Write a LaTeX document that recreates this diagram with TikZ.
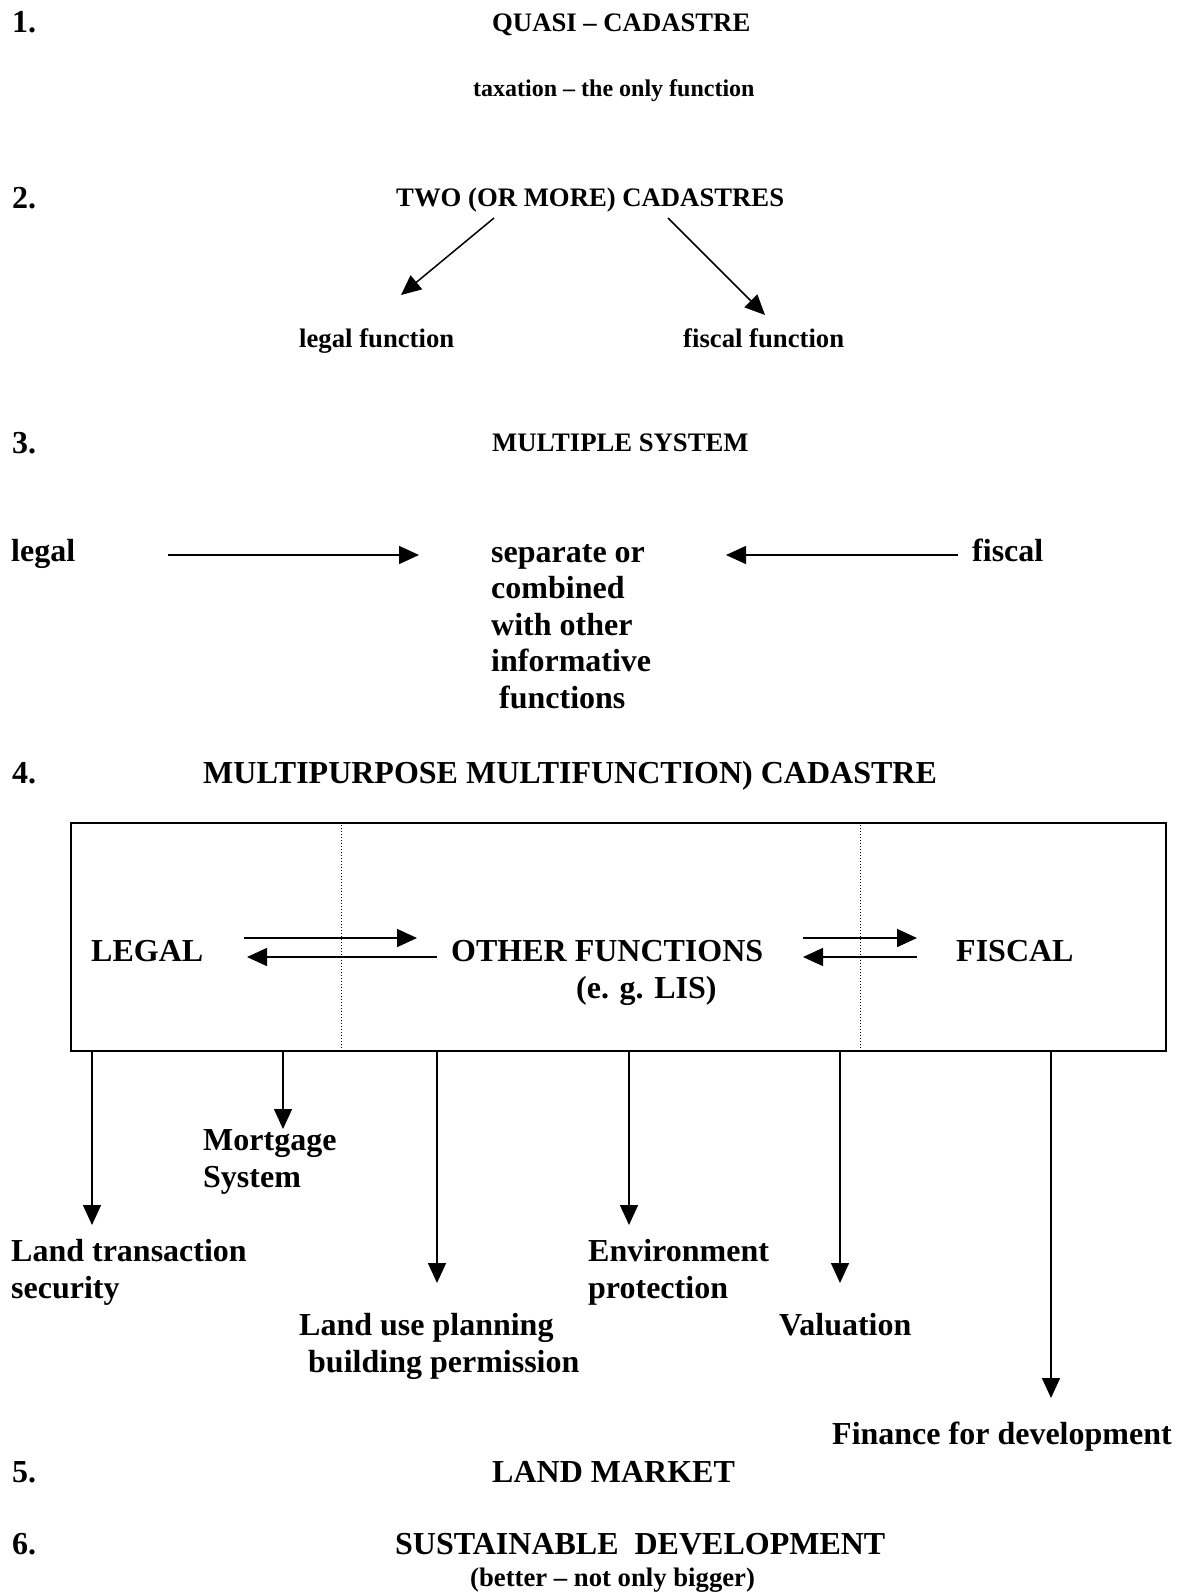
\documentclass[tikz,border=0pt]{standalone}
\usepackage{fontspec}
\setmainfont{Liberation Serif}
\usetikzlibrary{arrows.meta}
\tikzset{%
    lbl/.style={inner sep=0pt,anchor=base west}
}

\begin{document}
\begin{tikzpicture}[
        x=1pt,y=-1pt,
        big/.style={lbl,font=\bfseries\fontsize{32}{36.5}\selectfont},
        head/.style={lbl,font=\bfseries\fontsize{26.7}{32}\selectfont},
        small/.style={lbl,font=\bfseries\fontsize{24}{29}\selectfont},
        arr/.style={line width=1.5pt,-{Triangle[length=20pt,width=18pt]}},
        sep/.style={line width=0.8pt,dash pattern=on 1pt off 2pt}
        ]
        \useasboundingbox (0,0) rectangle (1179,1593);

        \node[big] (n1) at (12,32) {1.};
        \node[head] (quasi) at (492,31) {QUASI – CADASTRE};
        \node[small] (tax) at (473,96) {taxation – the only function};

        \node[big] (n2) at (12,208) {2.};
        \node[head] (two) at (396,206) {TWO (OR MORE) CADASTRES};
        \node[head] (legfn) at (299,347) {legal function};
        \node[head] (fisfn) at (683,347) {fiscal function};
        \coordinate (twoL) at (494,218);
        \coordinate (twoR) at (668,218);
        \coordinate (legfnT) at (401,295);
        \coordinate (fisfnT) at (765,315);
        \draw[arr] (twoL) -- (legfnT);
        \draw[arr] (twoR) -- (fisfnT);

        \node[big] (n3) at (12,453) {3.};
        \node[head] (multi) at (492,451) {MULTIPLE SYSTEM};
        \node[big] (leg3) at (11,561) {legal};
        \node[big,align=left] (comb) at (491,708) {separate or\\combined\\with other\\informative\\\hspace*{8pt}functions};
        \node[big] (fis3) at (972,561) {fiscal};
        \coordinate (leg3A) at (168,555);
        \coordinate (leg3B) at (419,555);
        \coordinate (fis3A) at (958,555);
        \coordinate (fis3B) at (726,555);
        \draw[arr] (leg3A) -- (leg3B);
        \draw[arr] (fis3A) -- (fis3B);

        \node[big] (n4) at (12,783) {4.};
        \node[big] (mpctitle) at (203,783) {MULTIPURPOSE MULTIFUNCTION) CADASTRE};
        \node[draw,line width=1.5pt,inner sep=0pt,minimum width=1095pt,minimum height=228pt] (mpc) at (618.5,937) {};
        \coordinate (d1) at (341,0);
        \coordinate (d2) at (860,0);
        \draw[sep] (d1 |- mpc.north) -- (d1 |- mpc.south);
        \draw[sep] (d2 |- mpc.north) -- (d2 |- mpc.south);

        \node[big] (leg4) at (91,961) {LEGAL};
        \node[big] (oth4) at (451,961) {OTHER FUNCTIONS};
        \node[big] (lis) at (576,998) {(e. g. LIS)};
        \node[big] (fis4) at (956,961) {FISCAL};
        \coordinate (lo1) at (244,938);
        \coordinate (lo2) at (417,938);
        \coordinate (ol1) at (437,957);
        \coordinate (ol2) at (247,957);
        \coordinate (of1) at (803,938);
        \coordinate (of2) at (917,938);
        \coordinate (fo1) at (917,957);
        \coordinate (fo2) at (803,957);
        \draw[arr] (lo1) -- (lo2);
        \draw[arr] (ol1) -- (ol2);
        \draw[arr] (of1) -- (of2);
        \draw[arr] (fo1) -- (fo2);

        \node[big,align=left] (lts) at (11,1298) {Land transaction\\security};
        \node[big,align=left] (mort) at (203,1187) {Mortgage\\System};
        \node[big,align=left] (lup) at (299,1372) {Land use planning\\\hspace*{9pt}building permission};
        \node[big,align=left] (env) at (588,1298) {Environment\\protection};
        \node[big] (val) at (779,1335) {Valuation};
        \node[big] (fin) at (832,1444) {Finance for development};
        \coordinate (ltsT) at (92,1225);
        \coordinate (mortT) at (283,1129);
        \coordinate (lupT) at (437,1283);
        \coordinate (envT) at (629,1225);
        \coordinate (valT) at (840,1283);
        \coordinate (finT) at (1051,1398);
        \foreach \t in {ltsT,mortT,lupT,envT,valT,finT}
            \draw[arr] (\t |- mpc.south) -- (\t);

        \node[big] (n5) at (12,1482) {5.};
        \node[big] (lm) at (492,1482) {LAND MARKET};
        \node[big] (n6) at (12,1554) {6.};
        \node[big] (sd) at (395,1554) {SUSTAINABLE\ \ DEVELOPMENT};
        \node[head] (better) at (470,1586) {(better – not only bigger)};
    \end{tikzpicture}
\end{document}
